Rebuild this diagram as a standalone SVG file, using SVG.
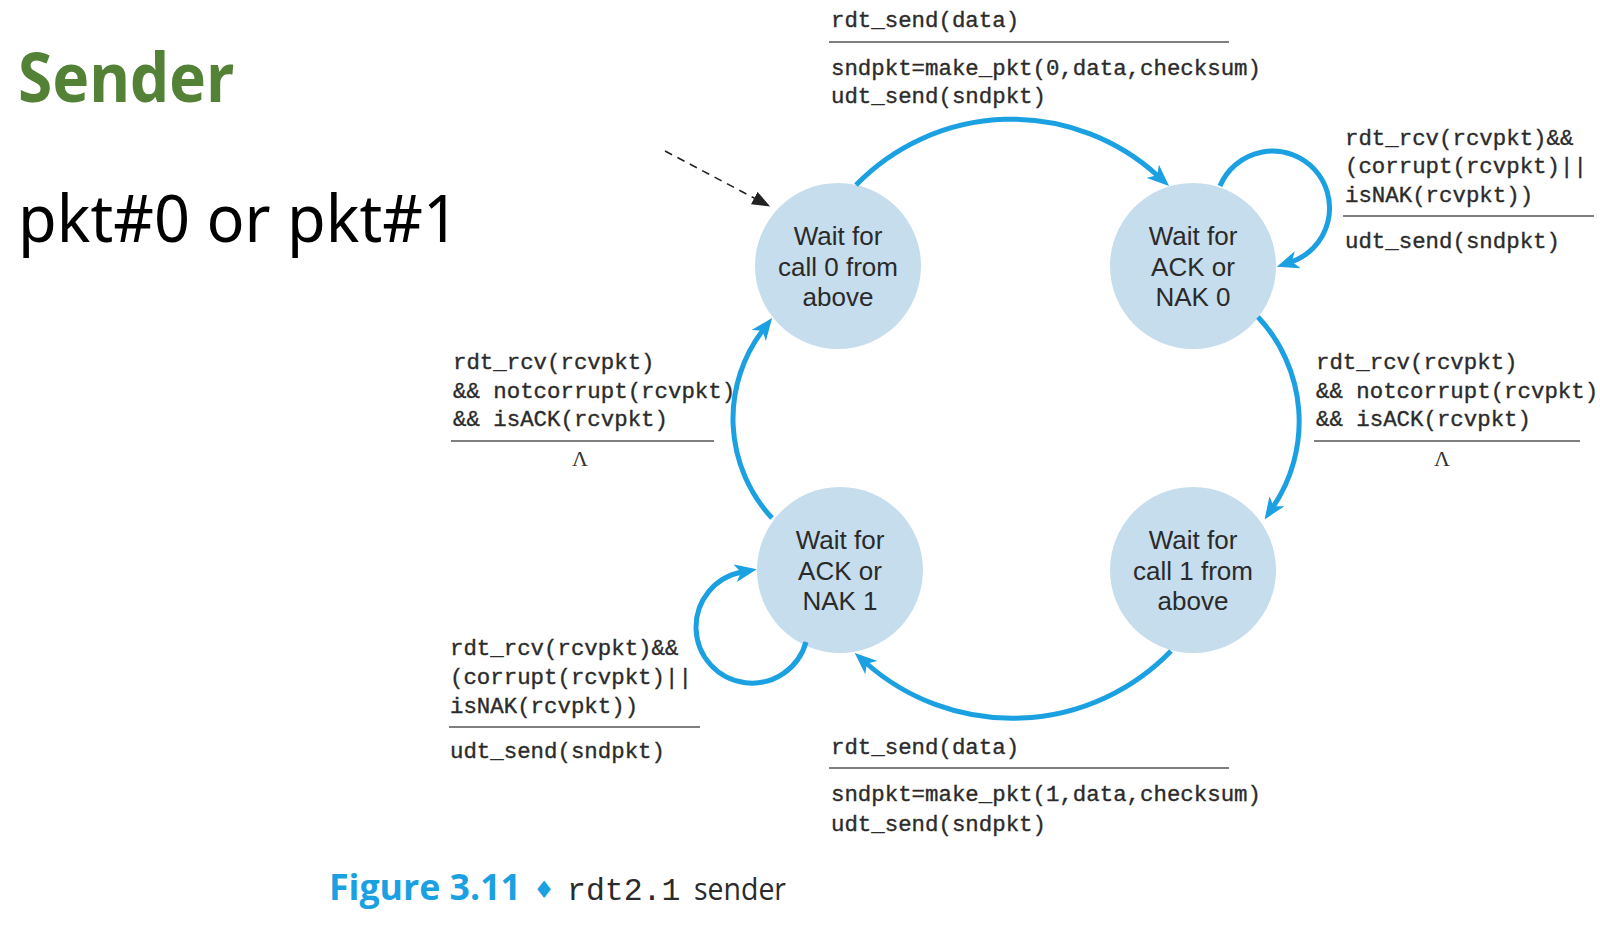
<svg xmlns="http://www.w3.org/2000/svg" width="1600" height="927" viewBox="0 0 1600 927">
<style>
.bg{fill:#ffffff}
.node{fill:#c5ddec}
.ntxt{font-family:"Liberation Sans",Arial,sans-serif;font-size:26px;fill:#2a2a2a;text-anchor:middle}
.mono{font-family:"Liberation Mono","Courier New",monospace;font-size:22.4px;fill:#2b2b2b;stroke:#2b2b2b;stroke-width:0.35}
.rule{stroke:#555;stroke-width:1.6}
.arc{fill:none;stroke:#1ba1e2;stroke-width:5}
.init{fill:none;stroke:#222;stroke-width:1.6;stroke-dasharray:8 6}
.lam{font-family:"Liberation Serif","Times New Roman",serif;font-size:22px;fill:#333}
</style>
<defs>
<marker id="ah" markerUnits="userSpaceOnUse" markerWidth="22" markerHeight="18" viewBox="0 0 22 18" refX="7" refY="9" orient="auto">
<path d="M0,0 L22,9 L0,18 L6,9 z" fill="#1ba1e2"/>
</marker>
<marker id="ahk" markerUnits="userSpaceOnUse" markerWidth="18" markerHeight="14" viewBox="0 0 18 14" refX="2" refY="7" orient="auto">
<path d="M0,0 L18,7 L0,14 z" fill="#222"/>
</marker>
</defs>
<rect class="bg" x="0" y="0" width="1600" height="927"/>

<g id="title">
<text x="18" y="102" font-family="'Noto Sans','Open Sans',sans-serif" font-weight="bold" font-size="68" fill="#538135" textLength="216" lengthAdjust="spacingAndGlyphs">Sender</text>
<text x="18" y="242" font-family="'Noto Sans','Open Sans',sans-serif" font-size="65" fill="#000" textLength="441" lengthAdjust="spacingAndGlyphs">pkt#0 or pkt#1</text>
</g>

<g id="n-call0">
<circle class="node" cx="838" cy="266" r="83"/>
<text class="ntxt" x="838" y="245">Wait for</text>
<text class="ntxt" x="838" y="276">call 0 from</text>
<text class="ntxt" x="838" y="306">above</text>
</g>
<g id="n-ack0">
<circle class="node" cx="1193" cy="266" r="83"/>
<text class="ntxt" x="1193" y="245">Wait for</text>
<text class="ntxt" x="1193" y="276">ACK or</text>
<text class="ntxt" x="1193" y="306">NAK 0</text>
</g>
<g id="n-ack1">
<circle class="node" cx="840" cy="570" r="83"/>
<text class="ntxt" x="840" y="549">Wait for</text>
<text class="ntxt" x="840" y="580">ACK or</text>
<text class="ntxt" x="840" y="610">NAK 1</text>
</g>
<g id="n-call1">
<circle class="node" cx="1193" cy="570" r="83"/>
<text class="ntxt" x="1193" y="549">Wait for</text>
<text class="ntxt" x="1193" y="580">call 1 from</text>
<text class="ntxt" x="1193" y="610">above</text>
</g>

<g id="connectors">
<path class="init" d="M665 151 L756 199" marker-end="url(#ahk)"/>
<path class="arc" d="M856 185 A217 217 0 0 1 1158 176" marker-end="url(#ah)"/>
<path class="arc" d="M1258 317 A153 153 0 0 1 1273 507" marker-end="url(#ah)"/>
<path class="arc" d="M1171 651 A221 221 0 0 1 866 663" marker-end="url(#ah)"/>
<path class="arc" d="M772 518 A146 146 0 0 1 763 330" marker-end="url(#ah)"/>
<path class="arc" d="M1220 186 A57 57 0 1 1 1291 262" marker-end="url(#ah)"/>
<path class="arc" d="M806 642 A56 56 0 1 1 742 572" marker-end="url(#ah)"/>
</g>

<g id="label-top">
<text class="mono" x="831" y="27">rdt_send(data)</text>
<line class="rule" x1="829" y1="42" x2="1229" y2="42"/>
<text class="mono" x="831" y="75">sndpkt=make_pkt(0,data,checksum)</text>
<text class="mono" x="831" y="103">udt_send(sndpkt)</text>
</g>
<g id="label-loop0">
<text class="mono" x="1345" y="145">rdt_rcv(rcvpkt)&amp;&amp;</text>
<text class="mono" x="1345" y="173">(corrupt(rcvpkt)||</text>
<text class="mono" x="1345" y="202">isNAK(rcvpkt))</text>
<line class="rule" x1="1343" y1="216" x2="1594" y2="216"/>
<text class="mono" x="1345" y="248">udt_send(sndpkt)</text>
</g>
<g id="label-left">
<text class="mono" x="453" y="369">rdt_rcv(rcvpkt)</text>
<text class="mono" x="453" y="398">&amp;&amp; notcorrupt(rcvpkt)</text>
<text class="mono" x="453" y="426">&amp;&amp; isACK(rcvpkt)</text>
<line class="rule" x1="451" y1="441" x2="714" y2="441"/>
<text class="lam" x="580" y="466" text-anchor="middle">Λ</text>
</g>
<g id="label-right">
<text class="mono" x="1316" y="369">rdt_rcv(rcvpkt)</text>
<text class="mono" x="1316" y="398">&amp;&amp; notcorrupt(rcvpkt)</text>
<text class="mono" x="1316" y="426">&amp;&amp; isACK(rcvpkt)</text>
<line class="rule" x1="1314" y1="441" x2="1580" y2="441"/>
<text class="lam" x="1442" y="466" text-anchor="middle">Λ</text>
</g>
<g id="label-loop1">
<text class="mono" x="450" y="655">rdt_rcv(rcvpkt)&amp;&amp;</text>
<text class="mono" x="450" y="684">(corrupt(rcvpkt)||</text>
<text class="mono" x="450" y="713">isNAK(rcvpkt))</text>
<line class="rule" x1="449" y1="727" x2="700" y2="727"/>
<text class="mono" x="450" y="758">udt_send(sndpkt)</text>
</g>
<g id="label-bottom">
<text class="mono" x="831" y="754">rdt_send(data)</text>
<line class="rule" x1="829" y1="768" x2="1229" y2="768"/>
<text class="mono" x="831" y="801">sndpkt=make_pkt(1,data,checksum)</text>
<text class="mono" x="831" y="831">udt_send(sndpkt)</text>
</g>

<g id="caption">
<text x="329" y="900" font-family="'Open Sans','Noto Sans',sans-serif" font-weight="bold" font-size="36" fill="#1ba1e2" textLength="192" lengthAdjust="spacingAndGlyphs">Figure 3.11</text>
<text x="544" y="898" font-family="'DejaVu Sans',sans-serif" font-size="24" fill="#1ba1e2" text-anchor="middle">♦</text>
<text x="567" y="900" font-family="'Liberation Mono',monospace" font-size="31.5" fill="#2b2b2b">rdt2.1</text>
<text x="694" y="900" font-family="'Open Sans','Noto Sans',sans-serif" font-size="31" fill="#2b2b2b" textLength="92" lengthAdjust="spacingAndGlyphs">sender</text>
</g>
</svg>
